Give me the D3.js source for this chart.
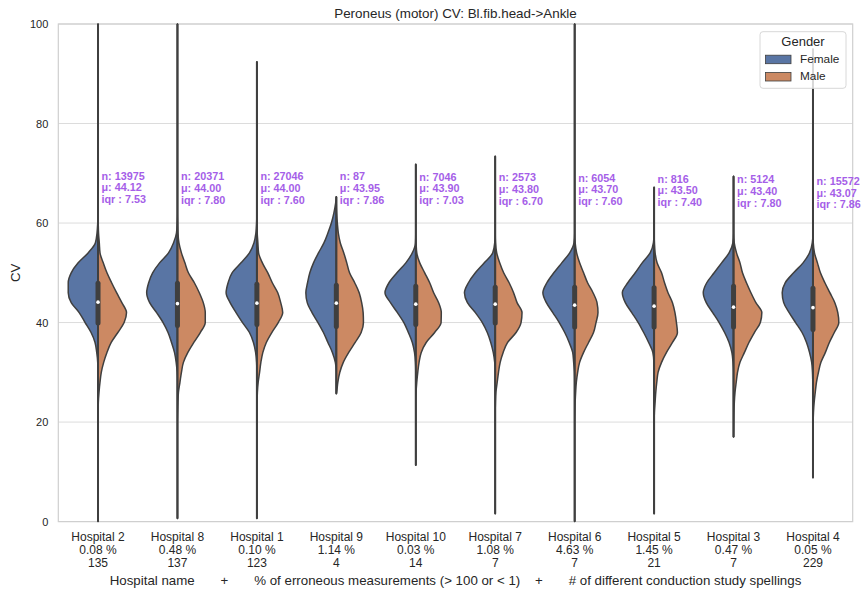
<!DOCTYPE html>
<html>
<head>
<meta charset="utf-8">
<script src="https://cdn.jsdelivr.net/npm/d3@7"></script>
<style>
  html, body { margin: 0; padding: 0; background: #ffffff; }
  svg { display: block; font-family: "Liberation Sans", Arial, Helvetica, sans-serif; }
</style>
</head>
<body>
<svg id="chart" width="862" height="590"></svg>
<script>
// ---------------- data ----------------
const hospitals = ["Hospital 2","Hospital 8","Hospital 1","Hospital 9","Hospital 10","Hospital 7","Hospital 6","Hospital 5","Hospital 3","Hospital 4"];
const errPct = ["0.08 %","0.48 %","0.10 %","1.14 %","0.03 %","1.08 %","4.63 %","1.45 %","0.47 %","0.05 %"];
const spellings = ["135","137","123","4","14","7","7","21","7","229"];
const nCounts = ["13975","20371","27046","87","7046","2573","6054","816","5124","15572"];
const means = ["44.12","44.00","44.00","43.95","43.90","43.80","43.70","43.50","43.40","43.07"];
const iqrs = ["7.53","7.80","7.60","7.86","7.03","6.70","7.60","7.40","7.80","7.86"];
const genders = ["Female","Male"];

// CV levels at which the density of each half violin was read
const cvLevels = [20,22,24,26,28,30,32,34,36,38,40,42,44,46,48,50,52,54,56,58,60,62,64,66];
// estimated densities (arbitrary units), one array per hospital
const femaleDensity = [
  [0,0,0,0,0,0.1,0.3,1.3,3,7,13,19,27,30,30,27,20,10,2.7,1,0.3,0,0,0],
  [0,0,0,0,0,0.3,1.3,3,6,9.5,14.5,21,28,31,29,25,18,9,4,1,0.3,0,0,0],
  [0,0,0,0,0,0,0.3,1.3,3.5,7.5,14.5,21,27,31,29,25,16,7.5,3,1,0.3,0,0,0],
  [0,0,0,0,0,0,1,4,8.5,13,18.5,24.5,29.3,30.7,29,26.7,23,18,12.5,8.5,5,2.5,0.7,0],
  [0,0,0,0,0,0,0.3,1.3,3.5,7.5,12,18.5,25.5,31,27,19,10,3.5,0.3,0,0,0,0,0],
  [0,0,0,0,0,0,0.5,2,4.5,8,13,20,28,31,27,20,11,2.5,0.5,0,0,0,0,0],
  [0,0,0,0,0,0.2,1,2,5.5,10,15.5,22,28.5,32,28,21,13,5,0.7,0,0,0,0,0],
  [0,0,0,0,0,0,0.2,1.3,5.5,10.5,16,22.5,29,32,26.5,19,12,4,0.7,0,0,0,0,0],
  [0,0,0,0,0,0,0.5,1.7,4.5,9,14.5,21,27.5,30.5,27,19.5,12,4.5,0.7,0,0,0,0,0],
  [0,0,0,0,0.2,0.5,1.3,3.5,6.5,11,17.5,24,29.5,31,28,19.5,10,3.5,0.7,0,0,0,0,0]
];
const maleDensity = [
  [0,0.1,0.3,1,2,3.3,5.7,9,13.3,20,26.3,28.7,24,18.7,13.7,9,5.3,2,1.3,0.5,0.2,0,0,0],
  [0,0.2,0.5,1,2.5,4,6,10.5,16.5,23,28,28,26,22,17,11,7.5,4,1.5,0.5,0.2,0,0,0],
  [0,0,0.2,0.5,1.3,2.7,4,6,9.5,15,21.5,26,24,21,15.5,11,5.5,1.7,1,0.3,0,0,0,0],
  [0,0,0,0.3,1.5,3.5,7,12.5,19,25,27.3,27,25.5,23,18.5,13.3,10.5,7.5,4,2,1,0.3,0,0],
  [0,0,0,0.3,1,2,3.3,5.5,10.5,19,25.5,25.7,23,18,14,9,4,1,0.3,0,0,0,0,0],
  [0,0,0.2,0.7,2,3.3,5,8,12.5,21,26,27,22,18.5,14,8.5,4.5,1.5,0.3,0,0,0,0,0],
  [0,0.2,0.5,1,1.7,3,5,9,14,19,21.5,23.5,22.5,18.5,13,9,5,2,0.5,0,0,0,0,0],
  [0,0.3,1,1.7,2.7,4,7.5,12.5,18.5,23.5,22.5,21,18.5,14,10.5,7.5,3,1,0.3,0,0,0,0,0],
  [0.2,0.4,0.8,1.5,2.7,4,6.5,11,15.5,21,27,28.5,22.5,17.5,13,9,6.5,3,0.7,0,0,0,0,0],
  [0.2,0.5,1.2,2.3,3.5,5.5,8,12.5,16.5,21.5,26,25,22,17,12,7.5,4.5,1.5,0.3,0,0,0,0,0]
];
// box statistics (CV)
const cvMin = [0,0.6,0.6,25.7,11.3,1.6,0,1.6,17.0,8.8];
const cvMax = [100,100,92.4,65.3,71.8,73.4,100,67.2,69.4,95];
const q1 = [39.9,39.4,39.6,39.2,39.6,39.9,39.1,39.1,39.1,38.6];
const q3 = [47.9,47.9,47.7,47.5,47.3,47.1,47.1,47.0,47.3,46.9];
const medians = [44.1,43.8,43.9,43.9,43.7,43.7,43.5,43.3,43.1,43.0];
const yTicks = [0,20,40,60,80,100];

// ---------------- layout ----------------
const svg = d3.select("#chart");
const margin = {left: 58.3, right: 862 - 852.7, top: 24, bottom: 590 - 521.6};
const W = 862, H = 590;
const x = d3.scaleBand().domain(hospitals).range([margin.left, W - margin.right]).padding(0);
const y = d3.scaleLinear().domain([0, 100]).range([H - margin.bottom, margin.top]);
const maxDens = d3.max([...femaleDensity.flat(), ...maleDensity.flat()]);
const w = d3.scaleLinear().domain([0, maxDens]).range([0, x.bandwidth() * 0.4]);
const color = d3.scaleOrdinal().domain(genders).range(["#5975a4", "#cc8963"]);
const edge = "#3f3f3f";
const textColor = "#262626";

// grid
const gGrid = svg.append("g");
gGrid.selectAll("line").data(yTicks).join("line")
  .attr("x1", margin.left).attr("x2", W - margin.right)
  .attr("y1", d => y(d)).attr("y2", d => y(d))
  .attr("stroke", "#dcdcdc").attr("stroke-width", 1);

// frame
svg.append("rect")
  .attr("x", margin.left).attr("y", margin.top)
  .attr("width", W - margin.left - margin.right)
  .attr("height", H - margin.top - margin.bottom)
  .attr("fill", "none").attr("stroke", "#cfcfcf").attr("stroke-width", 1.2);

// y axis
const yAxis = d3.axisLeft(y).tickValues(yTicks).tickSize(0).tickPadding(10);
const gy = svg.append("g").attr("transform", `translate(${margin.left},0)`).call(yAxis);
gy.select(".domain").remove();
gy.selectAll("text").attr("font-size", 11).attr("fill", textColor)
  .attr("font-family", "Liberation Sans, Arial, sans-serif");

// x axis (three-line labels)
const xAxis = d3.axisBottom(x).tickSize(0).tickFormat("");
const gx = svg.append("g").attr("transform", `translate(0,${H - margin.bottom})`).call(xAxis);
gx.select(".domain").remove();
gx.selectAll(".tick").each(function(d, i) {
  const t = d3.select(this).append("text")
    .attr("text-anchor", "middle").attr("fill", textColor)
    .attr("font-size", 12).attr("y", 19.5);
  [hospitals[i], errPct[i], spellings[i]].forEach((s, k) => {
    t.append("tspan").attr("x", 0).attr("dy", k === 0 ? 0 : 13.1).text(s);
  });
});

// axis titles
svg.append("text")
  .attr("x", (margin.left + W - margin.right) / 2).attr("y", 584.5)
  .attr("text-anchor", "middle").attr("font-size", 13.3).attr("fill", textColor)
  .style("white-space", "pre")
  .text("Hospital name       +       % of erroneous measurements (> 100 or < 1)    +       # of different conduction study spellings");
svg.append("text")
  .attr("transform", `translate(19.5,${(y(0) + y(100)) / 2}) rotate(-90)`)
  .attr("text-anchor", "middle").attr("font-size", 13.3).attr("fill", textColor)
  .text("CV");
svg.append("text")
  .attr("x", (margin.left + W - margin.right) / 2).attr("y", 17.5)
  .attr("text-anchor", "middle").attr("font-size", 13.4).attr("fill", textColor)
  .text("Peroneus (motor) CV: Bl.fib.head->Ankle");

// violins
const gV = svg.append("g");
hospitals.forEach((h, i) => {
  const cx = x(h) + x.bandwidth() / 2;
  [[femaleDensity[i], -1, "Female"], [maleDensity[i], 1, "Male"]].forEach(([dens, sgn, g]) => {
    const pts = [{cv: cvMin[i], v: 0}];
    cvLevels.forEach((c, k) => { if (c > cvMin[i] && c < cvMax[i]) pts.push({cv: c, v: dens[k]}); });
    pts.push({cv: cvMax[i], v: 0});
    const area = d3.area()
      .y(d => y(d.cv))
      .x0(cx)
      .x1(d => cx + sgn * w(d.v))
      .curve(d3.curveMonotoneY);
    gV.append("path").attr("d", area(pts))
      .attr("fill", color(g)).attr("stroke", edge).attr("stroke-width", 1.5)
      .attr("stroke-linejoin", "round");
  });
  // tails / whiskers
  gV.append("line").attr("x1", cx).attr("x2", cx)
    .attr("y1", y(cvMin[i])).attr("y2", y(cvMax[i]))
    .attr("stroke", edge).attr("stroke-width", 2);
  // box
  gV.append("line").attr("x1", cx).attr("x2", cx)
    .attr("y1", y(q1[i])).attr("y2", y(q3[i]))
    .attr("stroke", edge).attr("stroke-width", 5).attr("stroke-linecap", "round");
  gV.append("circle").attr("cx", cx).attr("cy", y(medians[i])).attr("r", 1.8)
    .attr("fill", "#ffffff");
});

// annotations
const gA = svg.append("g");
hospitals.forEach((h, i) => {
  const cx = x(h) + x.bandwidth() / 2;
  const t = gA.append("text")
    .attr("x", cx + 3.5).attr("y", y(+means[i] + 24.6))
    .attr("font-size", 10.8).attr("font-weight", "bold").attr("fill", "#a55ee8");
  [`n: ${nCounts[i]}`, `μ: ${means[i]}`, `iqr : ${iqrs[i]}`].forEach((s, k) => {
    t.append("tspan").attr("x", cx + 3.5).attr("dy", k === 0 ? 0 : 11.7).text(s);
  });
});

// legend
const lg = svg.append("g").attr("transform", "translate(760,31.7)");
lg.append("rect").attr("width", 86).attr("height", 56.6).attr("rx", 3)
  .attr("fill", "#ffffff").attr("fill-opacity", 0.8)
  .attr("stroke", "#d8d8d8").attr("stroke-width", 1);
lg.append("text").attr("x", 43).attr("y", 14.5).attr("text-anchor", "middle")
  .attr("font-size", 13).attr("fill", textColor).text("Gender");
genders.forEach((g, k) => {
  const yy = 23.5 + k * 17.3;
  lg.append("rect").attr("x", 5.5).attr("y", yy).attr("width", 25.5).attr("height", 8.5)
    .attr("fill", color(g)).attr("stroke", edge).attr("stroke-width", 0.8);
  lg.append("text").attr("x", 40).attr("y", yy + 8).attr("font-size", 11.8)
    .attr("fill", textColor).text(g);
});
</script>
</body>
</html>
